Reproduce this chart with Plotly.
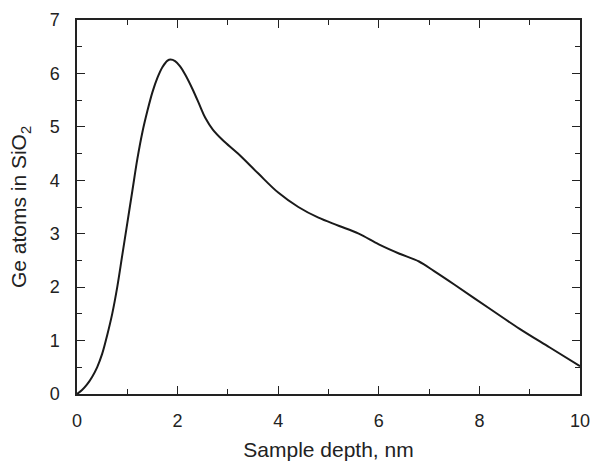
import plotly.graph_objects as go

depth_nm = [0, 0.1, 0.2, 0.3, 0.4, 0.5, 0.6, 0.7, 0.8, 0.9, 1.0, 1.1, 1.2, 1.3, 1.4, 1.5, 1.6, 1.7,
            1.8, 1.86, 1.95, 2.05, 2.15, 2.3, 2.45, 2.55, 2.7, 2.9, 3.2, 3.6, 4.0, 4.4, 4.8, 5.2,
            5.6, 6.0, 6.4, 6.8, 7.1, 7.5, 8.2, 8.8, 9.4, 10]
ge_atoms = [0, 0.075, 0.18, 0.32, 0.5, 0.75, 1.1, 1.5, 2.0, 2.6, 3.2, 3.8, 4.4, 4.9, 5.3, 5.65, 5.92, 6.12,
            6.24, 6.26, 6.23, 6.13, 5.98, 5.7, 5.38, 5.17, 4.95, 4.75, 4.5, 4.13, 3.77, 3.5, 3.3, 3.15,
            3.0, 2.8, 2.63, 2.48, 2.3, 2.05, 1.6, 1.22, 0.87, 0.52]

x_ticks = [0, 2, 4, 6, 8, 10]
y_ticks = [0, 1, 2, 3, 4, 5, 6, 7]

fig = go.Figure(go.Scatter(x=depth_nm, y=ge_atoms, mode="lines", hoverinfo="skip",
                           line=dict(color="#1a1a1a", width=2, shape="spline", smoothing=1.0)))

axis_common = dict(showgrid=False, zeroline=False, showline=True, linecolor="#222", linewidth=1.5,
                   mirror="ticks", ticks="inside", ticklen=8, tickwidth=1.3, tickcolor="#222",
                   tickfont=dict(size=18, color="#222"), automargin=False)

fig.update_xaxes(range=[0, 10], tickvals=x_ticks, ticktext=[str(v) for v in x_ticks],
                 minor=dict(dtick=1, ticks="inside", ticklen=5, tickcolor="#222", tickwidth=1.2),
                 ticklabelstandoff=10,
                 title=dict(text="Sample depth, nm", font=dict(size=21, color="#222"), standoff=13),
                 **axis_common)
fig.update_yaxes(range=[0, 7], tickvals=y_ticks, ticktext=[str(v) for v in y_ticks],
                 minor=dict(dtick=0.5, ticks="inside", ticklen=5, tickcolor="#222", tickwidth=1.2),
                 ticklabelstandoff=12,
                 title=dict(text="Ge atoms in SiO<sub>2</sub>", font=dict(size=21, color="#222"), standoff=17),
                 **axis_common)

fig.update_layout(width=594, height=461, margin=dict(l=77, r=14, t=20, b=67),
                  plot_bgcolor="white", paper_bgcolor="white", showlegend=False,
                  font=dict(family="Liberation Sans, Arial, sans-serif"))

fig.write_html("out.html", config={"displayModeBar": False},
               post_script="document.body.style.margin='0';document.body.style.overflow='hidden';")
